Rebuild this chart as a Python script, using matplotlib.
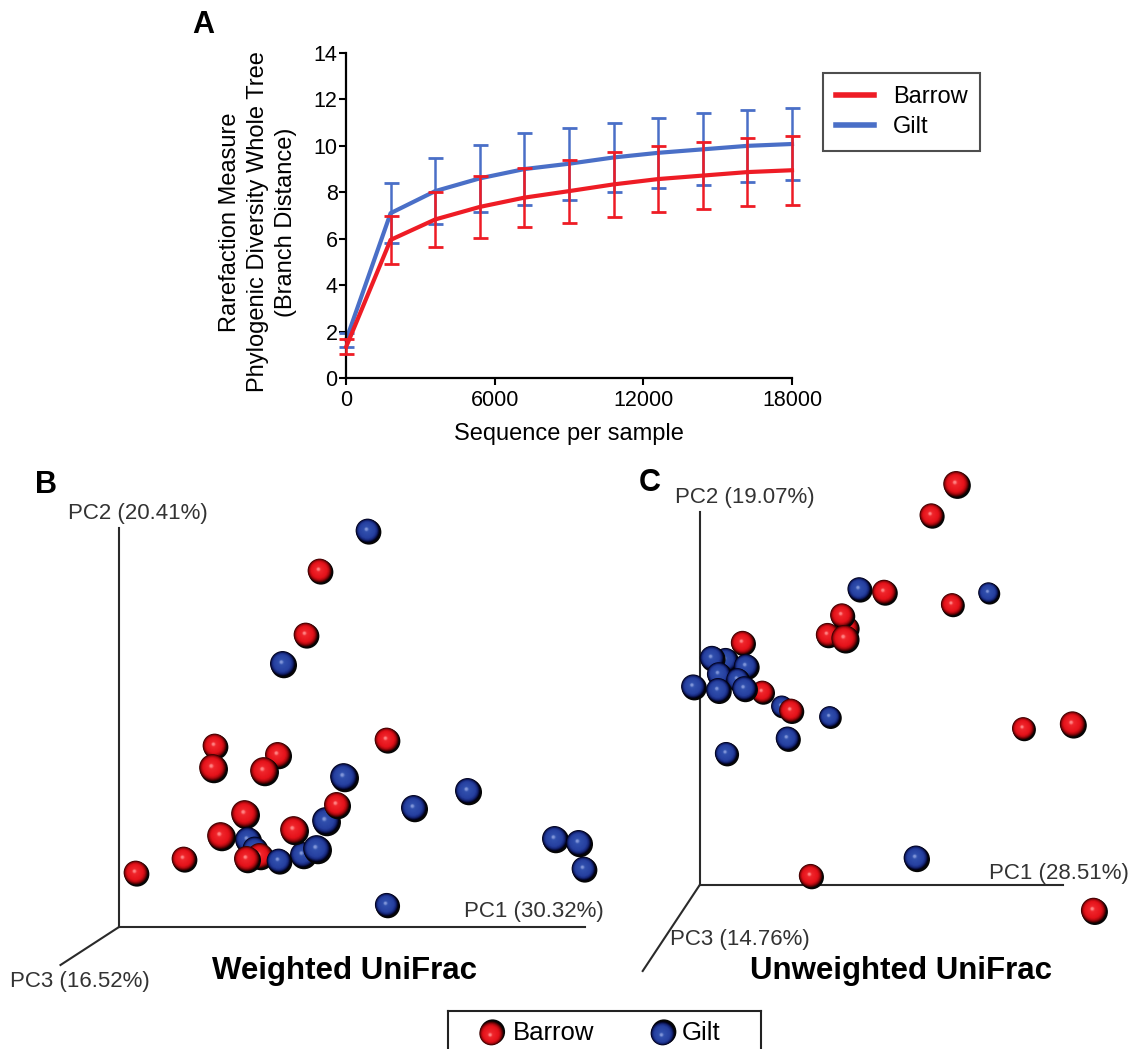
import matplotlib
matplotlib.use("Agg")
import matplotlib.pyplot as plt
import numpy as np
from matplotlib.patches import Circle
from matplotlib.lines import Line2D
from matplotlib.colors import LinearSegmentedColormap

plt.rcParams['font.family'] = ['Liberation Sans', 'DejaVu Sans']

W, H = 1134, 1049

# ---- panel A: rarefaction curves ----
seq_per_sample = [10, 1800, 3600, 5400, 7200, 9000, 10800, 12600, 14400, 16200, 18000]
gilt_mean = [1.65, 7.10, 8.05, 8.60, 9.00, 9.23, 9.50, 9.70, 9.85, 10.00, 10.08]
gilt_err = [0.30, 1.30, 1.43, 1.43, 1.56, 1.55, 1.50, 1.50, 1.55, 1.55, 1.55]
barrow_mean = [1.35, 5.95, 6.83, 7.37, 7.77, 8.05, 8.34, 8.57, 8.72, 8.87, 8.95]
barrow_err = [0.32, 1.02, 1.18, 1.33, 1.28, 1.36, 1.40, 1.42, 1.43, 1.48, 1.48]

# ---- panel B: weighted UniFrac PCoA (projected PC1 / PC2, depth along PC3) ----
wu_group = ['G', 'B', 'B', 'G', 'B', 'B', 'B', 'B', 'B', 'G', 'G', 'G', 'G', 'B', 'B',
            'G', 'G', 'G', 'G', 'B', 'B', 'B', 'B', 'G', 'B', 'B', 'G', 'G', 'G', 'G']
wu_pc1 = [249, 201, 187, 164, 268, 96, 94, 159, 145, 225, 349, 295, 207, 218, 126,
          184, 198, 129, 136, 102, 175, 141, 128, 160, 65, 17, 436, 460, 465, 268]
wu_pc2 = [396, 356, 292, 263, 187, 181, 159, 172, 156, 150, 136, 119, 106, 122, 113,
          72, 78, 87, 78, 91, 97, 71, 68, 66, 68, 54, 88, 84, 58, 22]
wu_pc3 = [0.0, 0.0, 0.0, 0.4, 0.0, 0.0, 1.0, 0.4, 1.0, 1.0, 0.4, 0.4, 1.0, 0.4, 1.0,
          0.4, 1.0, 0.4, 0.0, 1.0, 1.0, 0.4, 0.4, 0.0, 0.0, 0.0, 0.4, 0.4, 0.0, -0.2]

# ---- panel C: unweighted UniFrac PCoA ----
uu_group = ['B', 'B', 'G', 'B', 'G', 'B', 'B', 'B', 'B', 'B', 'B', 'G', 'G', 'G', 'G',
            'B', 'G', 'G', 'G', 'G', 'G', 'B', 'G', 'G', 'G', 'B', 'B', 'G', 'B', 'B']
uu_pc1 = [256.8, 231.9, 159.8, 184.7, 289.1, 252.7, 146.9, 142.5, 128.2, 145.2, 43.2,
          26.2, 12.5, 46.6, 19.3, 62.9, 38.1, -6.2, 18.7, 44.9, 82.3, 91.5, 130.3,
          88.1, 26.8, 323.8, 373.1, 216.6, 111.2, 394.2]
uu_pc2 = [400.7, 369.6, 295.7, 292.9, 292.1, 280.4, 257.1, 269.6, 250.0, 246.4, 242.1,
          225.0, 226.8, 218.6, 210.7, 192.9, 205.4, 198.2, 194.6, 196.4, 178.6, 174.3,
          168.0, 146.4, 131.4, 156.4, 160.7, 26.8, 9.0, -25.7]
uu_pc3 = [0.6, -0.2, -0.2, 0.0, -1.2, -0.6, -0.2, -0.2, -0.2, 0.8, -0.2, -0.2, 0.0,
          0.0, -0.2, -0.6, -0.6, 0.0, 0.0, 0.0, -1.0, -0.2, -1.0, -0.2, -0.5, -0.6,
          0.4, 0.2, -0.2, 0.4]

red = '#ee1c25'
blue = '#4a6fc7'

sphere_maps = {
    'B': LinearSegmentedColormap.from_list('red_sphere', [(0.0, '#3a0000'), (0.18, '#b00a10'),
                                                          (0.35, '#e5121a'), (0.85, '#f0262c'),
                                                          (1.0, '#ff8080')]),
    'G': LinearSegmentedColormap.from_list('blue_sphere', [(0.0, '#00001a'), (0.18, '#17297e'),
                                                           (0.35, '#2640a0'), (0.85, '#3150ad'),
                                                           (1.0, '#7f94d8')]),
}


def px_rect(x0, y0, x1, y1):
    return [x0 / W, 1 - y1 / H, (x1 - x0) / W, (y1 - y0) / H]


def draw_sphere(ax, x, y, r, group, z):
    cmap = sphere_maps[group]
    ax.add_patch(Circle((x + 0.07 * r, y - 0.09 * r), r, color='#050505', lw=0, zorder=z))
    n = 16
    for k in range(n):
        t = k / (n - 1)
        rr = r * (0.96 - 0.86 * t)
        ax.add_patch(Circle((x - 0.03 * r - 0.1 * r * t, y + 0.03 * r + 0.12 * r * t), rr,
                            color=cmap(t), lw=0, zorder=z))


fig = plt.figure(figsize=(W / 100, H / 100), dpi=100)

# ---------------- panel A ----------------
axA = fig.add_axes(px_rect(346, 53, 792, 378))
axA.errorbar(seq_per_sample, gilt_mean, yerr=gilt_err, color=blue, lw=3.0,
             elinewidth=1.8, capsize=5.4, capthick=2.0, clip_on=False, zorder=2)
axA.errorbar(seq_per_sample, barrow_mean, yerr=barrow_err, color=red, lw=3.0,
             elinewidth=1.8, capsize=5.4, capthick=2.0, clip_on=False, zorder=3)
axA.set_xlim(0, 18000)
axA.set_ylim(0, 14)
axA.set_xticks([0, 6000, 12000, 18000])
axA.set_yticks(np.arange(0, 15, 2))
for s in ['top', 'right']:
    axA.spines[s].set_visible(False)
for s in ['left', 'bottom']:
    axA.spines[s].set_linewidth(1.6)
axA.tick_params(length=5, width=1.5, labelsize=15.5, direction='out')
axA.tick_params(axis='y', pad=1)
axA.tick_params(axis='x', pad=4)
axA.set_xlabel('Sequence per sample', fontsize=17, labelpad=8)
fig.text(258 / W, 1 - 222 / H,
         'Rarefaction Measure\nPhylogenic Diversity Whole Tree\n(Branch Distance)',
         rotation=90, ha='center', va='center', fontsize=17, linespacing=1.35)
leg = axA.legend(handles=[Line2D([], [], color=red, lw=4), Line2D([], [], color=blue, lw=4)],
                 labels=['Barrow', 'Gilt'], loc='upper left',
                 bbox_to_anchor=(823 / W, 1 - 73 / H), bbox_transform=fig.transFigure,
                 fontsize=17, fancybox=False, edgecolor='#222222', borderaxespad=0,
                 handlelength=1.6, handletextpad=0.8, labelspacing=0.35, borderpad=0.55)
leg.get_frame().set_linewidth(1.5)
fig.text(203 / W, 1 - 25 / H, 'A', fontsize=22, fontweight='bold', ha='center', va='center')


def pcoa_panel(rect, xlim, ylim, group, pc1, pc2, pc3, axis_ends):
    ax = fig.add_axes(rect)
    ax.set_xlim(*xlim)
    ax.set_ylim(*ylim)
    ax.axis('off')
    for ex, ey in axis_ends:
        ax.plot([0, ex], [0, ey], color='#2a2a2a', lw=1.5, zorder=1)
    for i, (g, x, y, d) in enumerate(zip(group, pc1, pc2, pc3)):
        draw_sphere(ax, x, y, 12.5 + 1.5 * d, g, 5 + i)
    return ax


# ---------------- panel B ----------------
axB = pcoa_panel(px_rect(0, 460, 600, 1000), (-119, 481), (-73, 467),
                 wu_group, wu_pc1, wu_pc2, wu_pc3,
                 [(466, 0), (0, 399), (-58.5, -38)])
lab_kw = dict(fontsize=16, color='#333333', va='center')
axB.text(-51, 413, 'PC2 (20.41%)', ha='left', **lab_kw)
axB.text(345, 16, 'PC1 (30.32%)', ha='left', **lab_kw)
axB.text(-109, -55, 'PC3 (16.52%)', ha='left', **lab_kw)
fig.text(344 / W, 1 - 971 / H, 'Weighted UniFrac', fontsize=22.5, fontweight='bold',
         ha='center', va='center')
fig.text(46 / W, 1 - 485 / H, 'B', fontsize=22, fontweight='bold', ha='center', va='center')

# ---------------- panel C ----------------
axC = pcoa_panel(px_rect(600, 460, 1134, 1000), (-99.7, 434.3), (-115, 425),
                 uu_group, uu_pc1, uu_pc2, uu_pc3,
                 [(363, 0), (0, 373), (-57, -86)])
axC.text(-24.7, 388, 'PC2 (19.07%)', ha='left', **lab_kw)
axC.text(289, 12, 'PC1 (28.51%)', ha='left', **lab_kw)
axC.text(-30, -55, 'PC3 (14.76%)', ha='left', **lab_kw)
fig.text(901 / W, 1 - 971 / H, 'Unweighted UniFrac', fontsize=22.5, fontweight='bold',
         ha='center', va='center')
fig.text(650 / W, 1 - 483 / H, 'C', fontsize=22, fontweight='bold', ha='center', va='center')

# ---------------- bottom legend ----------------
axL = fig.add_axes(px_rect(448, 1011, 761, 1049))
axL.set_xlim(448, 761)
axL.set_ylim(1049, 1011)
axL.set_xticks([])
axL.set_yticks([])
axL.spines['bottom'].set_visible(False)
for s in ['top', 'left', 'right']:
    axL.spines[s].set_linewidth(1.5)
    axL.spines[s].set_color('#222222')
draw_sphere(axL, 491.7, 1033, 12.5, 'B', 5)
draw_sphere(axL, 663, 1033, 12.5, 'G', 5)
axL.text(513, 1033, 'Barrow', fontsize=18.5, ha='left', va='center')
axL.text(682, 1033, 'Gilt', fontsize=18.5, ha='left', va='center')

fig.savefig('out.png', dpi=100)
